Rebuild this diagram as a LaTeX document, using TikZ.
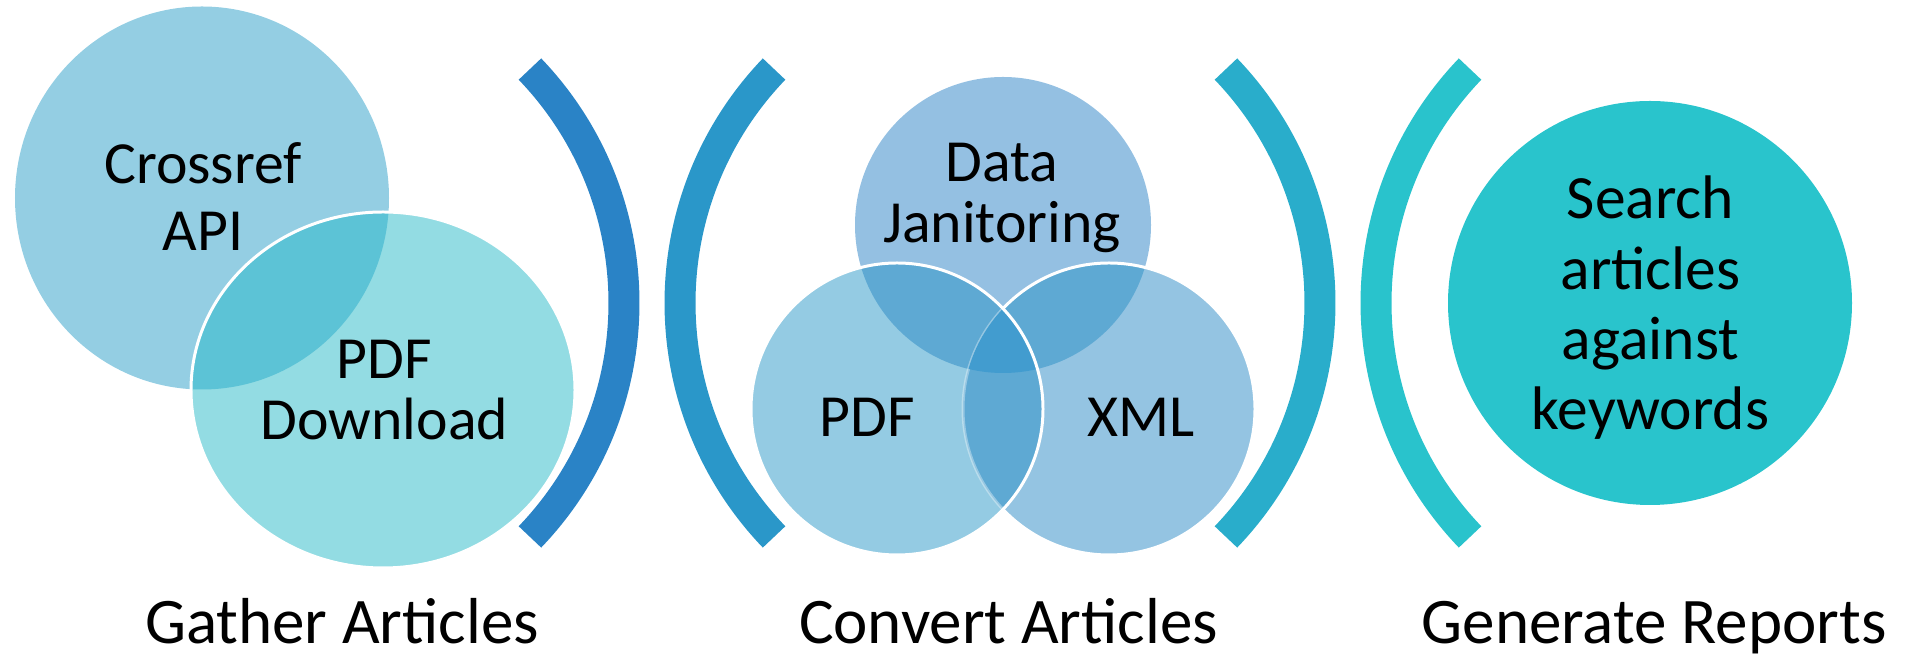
\documentclass[tikz,border=0pt]{standalone}
\usepackage{fontspec}
\setmainfont{Carlito}
\usetikzlibrary{calc}

\definecolor{crossrefc}{HTML}{94CEE3}
\definecolor{downloadc}{HTML}{93DCE3}
\definecolor{gatherlens}{HTML}{5CC3D6}
\definecolor{janitorc}{HTML}{94C0E2}
\definecolor{pdfc}{HTML}{94CBE3}
\definecolor{xmlc}{HTML}{94C4E2}
\definecolor{convlens}{HTML}{5EA9D3}
\definecolor{convcore}{HTML}{429CCF}
\definecolor{searchc}{HTML}{29C4CC}
\definecolor{brone}{HTML}{2A83C6}
\definecolor{brtwo}{HTML}{2A97C9}
\definecolor{brthree}{HTML}{29ADCB}
\definecolor{brfour}{HTML}{29C3CC}

\tikzstyle{bracket}=[line width=0.62cm]
\tikzstyle{rim}=[draw=white, line width=1.7pt]
\tikzstyle{lbl}=[align=center, inner sep=0pt, font=\fontsize{34}{38}\selectfont]
\tikzstyle{stage}=[anchor=base, inner sep=0pt, font=\fontsize{37}{44}\selectfont]

% circles of the three stages
\def\crossref{(4.04,9.24) ellipse [x radius=3.74, y radius=3.83]}
\def\download{(7.66,5.40) ellipse [x radius=3.84, y radius=3.56]}
\def\janitor{(20.06,8.70) circle (2.96)}
\def\pdfconv{(17.94,5.02) circle (2.92)}
\def\xmlconv{(22.18,5.02) circle (2.92)}
\def\search{(33.0,7.14) circle (4.04)}

\begin{document}
\begin{tikzpicture}
  %\draw [help lines, step=1] (0,0) grid (38,13);
  \useasboundingbox (0,0) rectangle (38.12,13.2);

  % brackets between the stages
  \draw[bracket, brone] (5.72,7.14) ++(-43.8:6.76) arc[start angle=-43.8, end angle=43.8, radius=6.76];
  \draw[bracket, brtwo] (20.36,7.14) ++(136.2:6.76) arc[start angle=136.2, end angle=223.8, radius=6.76];
  \draw[bracket, brthree] (19.64,7.14) ++(-43.8:6.76) arc[start angle=-43.8, end angle=43.8, radius=6.76];
  \draw[bracket, brfour] (34.28,7.14) ++(136.2:6.76) arc[start angle=136.2, end angle=223.8, radius=6.76];

  % gather
  \fill[crossrefc] \crossref;
  \fill[downloadc] \download;
  \begin{scope}
    \clip \crossref;
    \fill[gatherlens] \download;
  \end{scope}
  \draw[rim] \download;

  % convert
  \fill[janitorc] \janitor;
  \fill[pdfc] \pdfconv;
  \fill[xmlc] \xmlconv;
  \begin{scope}
    \clip \janitor;
    \fill[convlens] \pdfconv;
    \fill[convlens] \xmlconv;
  \end{scope}
  \begin{scope}
    \clip \pdfconv;
    \fill[convlens] \xmlconv;
    \draw[rim, opacity=0.35] \xmlconv;
    \clip \janitor;
    \fill[convcore] \xmlconv;
  \end{scope}
  \begin{scope}[even odd rule]
    \clip (0,0) rectangle (38.12,13.2) \pdfconv;
    \draw[rim] \xmlconv;
  \end{scope}
  \draw[rim] \pdfconv;

  % report
  \fill[searchc] \search;

  \node[lbl] (crossreftxt) at (4.06,9.27) {Crossref\\API};
  \node[lbl, font=\fontsize{34}{35}\selectfont] (downloadtxt) at (7.69,5.40) {PDF\\Download};
  \node[lbl, font=\fontsize{34}{35}\selectfont] (janitortxt) at (20.04,9.24) {Data\\Janitoring};
  \node[lbl] (pdftxt) at (17.34,4.85) {PDF};
  \node[lbl] (xmltxt) at (22.82,4.85) {XML};
  \node[lbl, font=\fontsize{35}{40}\selectfont] (searchtxt) at (33.01,7.04) {Search\\articles\\against\\keywords};

  \node[stage] (gather) at (6.84,0.32) {Gather Articles};
  \node[stage] (convert) at (20.17,0.32) {Convert Articles};
  \node[stage] (report) at (33.08,0.32) {Generate Reports};

\end{tikzpicture}
\end{document}
